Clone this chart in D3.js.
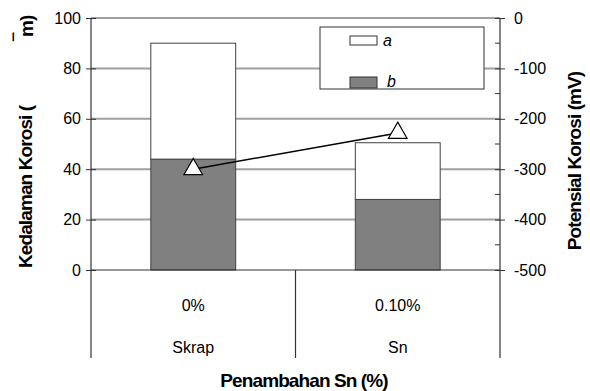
<!DOCTYPE html>
<html><head><meta charset="utf-8">
<script src="https://cdn.jsdelivr.net/npm/d3@7"></script>
<style>body{margin:0;background:#fff}svg{display:block}text{font-family:"Liberation Sans",Arial,sans-serif}</style>
</head><body><svg id="c" width="590" height="391"></svg>
<script>
const categories = ["0%", "0.10%"];
const subLabels = ["Skrap", "Sn"];
const seriesB = [44, 28];
const seriesA = [46, 22.5];
const potential = [-300, -228];
const leftTicks = [0, 20, 40, 60, 80, 100];
const rightTicks = [0, -100, -200, -300, -400, -500];

const svg = d3.select("#c");
const L = 91, R = 500, T = 18, B = 270;
const x = d3.scaleBand().domain(categories).range([L, R]).paddingInner(0).paddingOuter(0);
const y = d3.scaleLinear().domain([0, 100]).range([B, T]);
const y2 = d3.scaleLinear().domain([-500, 0]).range([B, T]);

// gridlines
svg.append("g").selectAll("line").data(leftTicks.filter(d => d > 0)).join("line")
  .attr("x1", L).attr("x2", R).attr("y1", d => y(d)).attr("y2", d => y(d))
  .attr("stroke", "#a0a0a0").attr("stroke-width", 2);

// bars
const bw = x.bandwidth() * 0.415;
const g = svg.append("g");
categories.forEach((c, i) => {
  const cx = x(c) + x.bandwidth() / 2;
  g.append("rect").attr("x", cx - bw / 2).attr("width", bw)
    .attr("y", y(seriesB[i])).attr("height", y(0) - y(seriesB[i]))
    .attr("fill", "#808080").attr("stroke", "#404040").attr("stroke-width", 1);
  g.append("rect").attr("x", cx - bw / 2).attr("width", bw)
    .attr("y", y(seriesB[i] + seriesA[i])).attr("height", y(seriesB[i]) - y(seriesB[i] + seriesA[i]))
    .attr("fill", "#fff").attr("stroke", "#404040").attr("stroke-width", 1);
});

// left axis
const la = svg.append("g").attr("transform", `translate(${L},0)`)
  .call(d3.axisLeft(y).tickValues(leftTicks).tickSize(5).tickSizeOuter(0));
la.select(".domain").remove();
la.selectAll("line").attr("stroke", "#333").attr("x2", 5).attr("x1", -5);
la.selectAll("text").attr("font-size", 16).attr("fill", "#000").attr("x", -10);

// right axis
const ra = svg.append("g").attr("transform", `translate(${R},0)`)
  .call(d3.axisRight(y2).tickValues(rightTicks).tickSize(5).tickSizeOuter(0).tickFormat(d => String(d)));
ra.select(".domain").remove();
ra.selectAll("line").attr("stroke", "#333").attr("x1", -5).attr("x2", 5);
ra.selectAll("text").attr("font-size", 16).attr("fill", "#000").attr("x", 14);
const minor = d3.range(-450, 0, 100);
svg.append("g").selectAll("line").data(minor).join("line")
  .attr("x1", R - 5).attr("x2", R).attr("y1", d => y2(d)).attr("y2", d => y2(d))
  .attr("stroke", "#333");

// axis lines and category dividers
const ax = svg.append("g").attr("stroke", "#333").attr("stroke-width", 1.2);
ax.append("line").attr("x1", L).attr("x2", L).attr("y1", T).attr("y2", 358);
ax.append("line").attr("x1", R).attr("x2", R).attr("y1", T).attr("y2", 358);
ax.append("line").attr("x1", L).attr("x2", R).attr("y1", B).attr("y2", B);
ax.append("line").attr("x1", x(categories[1])).attr("x2", x(categories[1])).attr("y1", B).attr("y2", 358);

// category labels
svg.append("g").selectAll("text").data(categories).join("text")
  .attr("x", d => x(d) + x.bandwidth() / 2).attr("y", 311)
  .attr("text-anchor", "middle").attr("font-size", 16).text(d => d);
svg.append("g").selectAll("text").data(subLabels).join("text")
  .attr("x", (d, i) => x(categories[i]) + x.bandwidth() / 2).attr("y", 353)
  .attr("text-anchor", "middle").attr("font-size", 16).text(d => d);

// potential line
const pts = categories.map((c, i) => [x(c) + x.bandwidth() / 2, y2(potential[i])]);
svg.append("path").attr("d", d3.line()(pts)).attr("fill", "none").attr("stroke", "#000").attr("stroke-width", 1.5);
svg.append("g").selectAll("path").data(pts).join("path")
  .attr("transform", d => `translate(${d[0]},${d[1]})`)
  .attr("d", d3.symbol().type(d3.symbolTriangle).size(150))
  .attr("fill", "#fff").attr("stroke", "#000").attr("stroke-width", 1.2);

// legend
const lg = svg.append("g");
lg.append("rect").attr("x", 320).attr("y", 27).attr("width", 164).attr("height", 62)
  .attr("fill", "#fff").attr("stroke", "#333");
lg.append("rect").attr("x", 350).attr("y", 36).attr("width", 27).attr("height", 9)
  .attr("fill", "#fff").attr("stroke", "#333");
lg.append("text").attr("x", 383).attr("y", 46).attr("font-size", 16).attr("font-style", "italic").text("a");
lg.append("rect").attr("x", 350).attr("y", 77).attr("width", 27).attr("height", 11)
  .attr("fill", "#808080").attr("stroke", "#333");
lg.append("text").attr("x", 387).attr("y", 87).attr("font-size", 16).attr("font-style", "italic").text("b");

// titles
svg.append("text").attr("transform", "translate(32,268) rotate(-90)")
  .attr("font-size", 19).attr("font-weight", "bold").attr("letter-spacing", -0.9)
  .text("Kedalaman Korosi (");
svg.append("text").attr("transform", "translate(33,37) rotate(-90)")
  .attr("font-size", 19).attr("font-weight", "bold").attr("letter-spacing", -0.9)
  .text("m)");
svg.append("text").attr("transform", "translate(27,40) rotate(-90)")
  .attr("font-size", 19).attr("font-weight", "bold").text("‾");
svg.append("text").attr("transform", "translate(581,161) rotate(-90)")
  .attr("text-anchor", "middle").attr("font-size", 19).attr("font-weight", "bold").attr("letter-spacing", -0.9)
  .text("Potensial Korosi (mV)");
svg.append("text").attr("x", 304).attr("y", 387).attr("text-anchor", "middle")
  .attr("font-size", 19).attr("font-weight", "bold").attr("letter-spacing", -0.9)
  .text("Penambahan Sn (%)");
</script></body></html>
